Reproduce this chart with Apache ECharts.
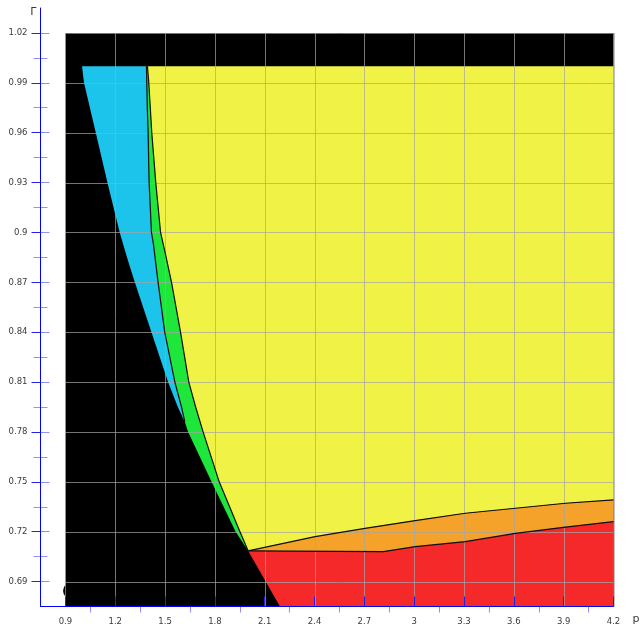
<!DOCTYPE html>
<html><head><meta charset="utf-8">
<script src="https://cdn.jsdelivr.net/npm/echarts@6/dist/echarts.min.js"></script>
<style>html,body{margin:0;padding:0;background:#fff}#c{width:640px;height:627px}</style>
</head><body><div id="c"></div>
<script>
// ---- tick values ----
const xTickValues = [0.9, 1.2, 1.5, 1.8, 2.1, 2.4, 2.7, 3.0, 3.3, 3.6, 3.9, 4.2];
const xMinorTicks = [1.05, 1.35, 1.65, 1.95, 2.25, 2.55, 2.85, 3.15, 3.45, 3.75, 4.05];
const yTickValues = [0.69, 0.72, 0.75, 0.78, 0.81, 0.84, 0.87, 0.90, 0.93, 0.96, 0.99, 1.02];
const yMinorTicks = [0.705, 0.735, 0.765, 0.795, 0.825, 0.855, 0.885, 0.915, 0.945, 0.975, 1.005];

// ---- region geometry (data coordinates p, Γ) ----
const plotFrame = [[0.9, 0.675], [4.2, 0.675], [4.2, 1.02], [0.9, 1.02]];
const regionTop = 1.0;
// black | cyan boundary, top -> cyan tip
const cyanLeftEdge = [[1.0, 1.0], [1.012, 0.99], [1.083, 0.96], [1.153, 0.93], [1.227, 0.90], [1.277, 0.883], [1.318, 0.87], [1.418, 0.84], [1.518, 0.81], [1.577, 0.795], [1.619, 0.786]];
// cyan | green boundary, top -> cyan tip
const cyanRightEdge = [[1.388, 1.0], [1.393, 0.975], [1.398, 0.96], [1.404, 0.93], [1.418, 0.90], [1.430, 0.893], [1.458, 0.87], [1.498, 0.84], [1.559, 0.81], [1.599, 0.795], [1.619, 0.786]];
// black | green boundary, cyan tip -> triple point
const greenLowerEdge = [[1.619, 0.786], [1.639, 0.78], [1.78, 0.75], [1.925, 0.72], [2.0, 0.7085]];
// green | yellow boundary, top -> triple point
const greenRightEdge = [[1.394, 1.0], [1.402, 0.99], [1.420, 0.96], [1.444, 0.93], [1.473, 0.90], [1.500, 0.888], [1.539, 0.87], [1.593, 0.84], [1.643, 0.81], [1.684, 0.795], [1.729, 0.78], [1.826, 0.75], [1.951, 0.72], [2.0, 0.7085]];
// yellow | orange boundary
const yellowOrangeEdge = [[2.0, 0.7085], [2.071, 0.710], [2.403, 0.717], [2.704, 0.722], [3.006, 0.7267], [3.307, 0.7311], [3.609, 0.7341], [3.910, 0.7371], [4.2, 0.7391]];
// orange | red boundary
const orangeRedEdge = [[2.0, 0.7085], [2.814, 0.708], [3.006, 0.711], [3.307, 0.714], [3.609, 0.719], [3.910, 0.7227], [4.2, 0.7261]];
// red | black boundary
const redBlackEdge = [[2.0, 0.7085], [2.192, 0.675]];
// small black blob at lower-left of frame
const blobPoints = [[0.937, 0.6845]];

const cyanPoly = cyanRightEdge.concat(cyanLeftEdge.slice().reverse());
const greenPoly = cyanRightEdge.concat(greenLowerEdge.slice(1)).concat(greenRightEdge.slice().reverse());
const yellowPoly = greenRightEdge.concat(yellowOrangeEdge.slice(1)).concat([[4.2, regionTop]]);
const orangePoly = yellowOrangeEdge.concat(orangeRedEdge.slice().reverse());
const redPoly = orangeRedEdge.concat([[4.2, 0.675]]).concat(redBlackEdge.slice().reverse());

const fmt = v => String(parseFloat(Number(v).toFixed(3)));
const FONT = 'DejaVu Sans';
const LBL = {fontSize: 8.5, color: '#3a3a3a', fontFamily: FONT};
const AXIS_BLUE = '#0000ff';

function polySeries(points, color) {
  return {
    type: 'custom', coordinateSystem: 'cartesian2d', silent: true, data: [0],
    renderItem: (params, api) => ({
      type: 'polygon',
      shape: {points: points.map(p => api.coord(p))},
      style: {fill: color}
    })
  };
}
function edgeSeries(edges) {
  return {
    type: 'custom', coordinateSystem: 'cartesian2d', silent: true,
    data: edges.map((e, i) => i),
    renderItem: (params, api) => ({
      type: 'polyline',
      shape: {points: edges[params.dataIndex].map(p => api.coord(p))},
      style: {stroke: '#111', lineWidth: 1.2, fill: null}
    })
  };
}
const snap = v => Math.round(v) + 0.5;
const gridLineSeries = {
  type: 'custom', coordinateSystem: 'cartesian2d', silent: true,
  data: xTickValues.map(v => ['x', v]).concat(yTickValues.map(v => ['y', v])),
  renderItem: (params, api) => {
    const d = params.dataIndex < xTickValues.length ? ['x', xTickValues[params.dataIndex]] : ['y', yTickValues[params.dataIndex - xTickValues.length]];
    let a, b;
    if (d[0] === 'x') {
      a = api.coord([d[1], plotFrame[0][1]]); b = api.coord([d[1], plotFrame[2][1]]);
      a[0] = b[0] = snap(a[0]);
    } else {
      a = api.coord([plotFrame[0][0], d[1]]); b = api.coord([plotFrame[1][0], d[1]]);
      a[1] = b[1] = snap(a[1]);
    }
    return {type: 'line', shape: {x1: a[0], y1: a[1], x2: b[0], y2: b[1]},
      style: {stroke: 'rgba(165,165,165,0.7)', lineWidth: 1}};
  }
};
const blobSeries = {
  type: 'custom', coordinateSystem: 'cartesian2d', silent: true, data: blobPoints,
  renderItem: (params, api) => {
    const c = api.coord(blobPoints[params.dataIndex]);
    return {type: 'circle', shape: {cx: c[0], cy: c[1], r: 8.5}, style: {fill: '#000'}};
  }
};

function xAx(extra) {
  return Object.assign({type: 'value', min: 0.75, max: 4.2, position: 'bottom', gridIndex: 0, offset: 0,
    splitLine: {show: false}, axisLabel: {show: false}, axisLine: {show: false, onZero: false}}, extra);
}
function yAx(extra) {
  return Object.assign({type: 'value', min: 0.675, max: 1.035, position: 'left', gridIndex: 0, offset: 0,
    splitLine: {show: false}, axisLabel: {show: false}, axisLine: {show: false, onZero: false}}, extra);
}

const chart = echarts.init(document.getElementById('c'), null, {renderer: 'canvas'});
chart.setOption({
  animation: false,
  backgroundColor: '#fff',
  grid: {left: 40.5, right: 26.5, top: 8, bottom: 20.5, outerBoundsMode: 'none', containLabel: false},
  xAxis: [
    xAx({name: 'p', nameLocation: 'end', nameGap: 19, z: 10,
      nameTextStyle: {fontSize: 11, color: '#3a3a3a', fontFamily: FONT, align: 'left', verticalAlign: 'top', padding: [7, 0, 0, 0]},
      axisLine: {show: true, onZero: false, lineStyle: {color: AXIS_BLUE, width: 1}},
      axisTick: {show: true, customValues: xTickValues, inside: true, length: 10, lineStyle: {color: '#2020ee'}},
      axisLabel: Object.assign({show: true, customValues: xTickValues, formatter: fmt, margin: 11}, LBL)}),
    xAx({axisTick: {show: true, customValues: xMinorTicks, inside: true, length: 6, lineStyle: {color: '#8c8cff'}}}),
    xAx({axisTick: {show: true, customValues: xMinorTicks, inside: false, length: 6, lineStyle: {color: '#8c8cff'}}})
  ],
  yAxis: [
    yAx({name: 'Γ', nameLocation: 'end', nameGap: -4, z: 10,
      nameTextStyle: {fontSize: 11, color: '#3a3a3a', fontFamily: FONT, align: 'right', verticalAlign: 'middle', padding: [0, 4, 0, 0]},
      axisLine: {show: true, onZero: false, lineStyle: {color: AXIS_BLUE, width: 1}},
      axisTick: {show: true, customValues: yTickValues, inside: false, length: 9, lineStyle: {color: '#2020ee'}},
      axisLabel: Object.assign({show: true, customValues: yTickValues, formatter: fmt, margin: 13}, LBL)}),
    yAx({axisTick: {show: true, customValues: yTickValues, inside: true, length: 9, lineStyle: {color: '#9090ff'}}}),
    yAx({axisTick: {show: true, customValues: yMinorTicks, inside: true, length: 7, lineStyle: {color: '#9090ff'}}}),
    yAx({axisTick: {show: true, customValues: yMinorTicks, inside: false, length: 7, lineStyle: {color: '#9090ff'}}})
  ],
  series: [
    polySeries(plotFrame, '#000000'),
    polySeries(cyanPoly, '#1cc4ec'),
    polySeries(greenPoly, '#1ee63a'),
    polySeries(yellowPoly, '#f0f246'),
    polySeries(orangePoly, '#f4a22a'),
    polySeries(redPoly, '#f5282a'),
    blobSeries,
    gridLineSeries,
    edgeSeries([cyanRightEdge, greenRightEdge, yellowOrangeEdge, orangeRedEdge])
  ]
});
</script></body></html>
